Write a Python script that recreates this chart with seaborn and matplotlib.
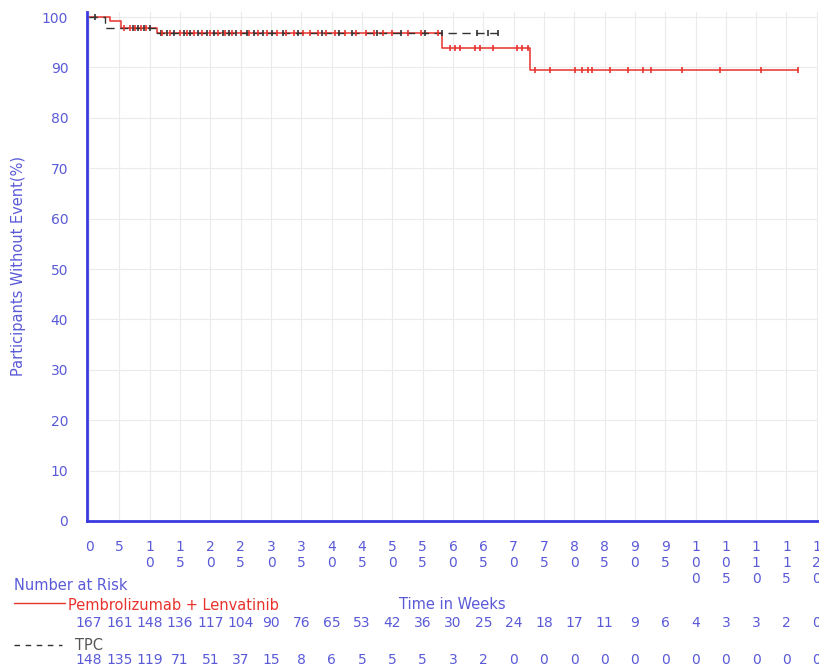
import numpy as np
import seaborn as sns
from matplotlib import pyplot as plt
from matplotlib import transforms

# step curves (time in weeks, % without event)
pem_times = [0, 3.5, 5.2, 11.2, 58.2, 72.7, 116.9]
pem_surv = [100, 99.2, 97.8, 96.8, 93.8, 89.4, 89.4]
tpc_times = [0, 2.6, 11.2, 67.6]
tpc_surv = [100, 97.9, 96.8, 96.8]

# censoring marks
pem_censor = [5.8, 6.8, 7.6, 8.5, 9.4, 12.0, 13.4, 15.0, 16.2, 17.3, 18.6, 20.0,
              21.2, 22.4, 23.6, 25.0, 26.3, 27.8, 29.4, 31.0, 32.4, 33.8, 35.2,
              36.4, 37.8, 39.0, 40.6, 42.2, 44.0, 45.6, 47.0, 48.4, 50.0, 52.6,
              54.8, 57.6, 59.5, 60.3, 61.2, 63.6, 64.4, 66.6, 70.5, 71.4, 72.4,
              73.5, 76.0, 80.1, 81.3, 82.2, 82.9, 85.9, 88.8, 91.3, 92.6, 97.7,
              104.0, 110.8, 116.9]
tpc_censor = [1.0, 7.2, 8.0, 9.0, 10.0, 11.8, 12.8, 14.0, 15.6, 16.6, 18.0, 19.4,
              20.6, 22.0, 23.0, 24.2, 26.0, 27.2, 28.6, 30.2, 32.0, 34.4, 38.4,
              41.2, 43.4, 47.4, 51.4, 55.4, 58.2, 64.0, 65.8, 67.4]

# number at risk
risk_weeks = list(range(0, 121, 5))
pem_risk = [167, 161, 148, 136, 117, 104, 90, 76, 65, 53, 42, 36, 30, 25, 24,
            18, 17, 11, 9, 6, 4, 3, 3, 2, 0]
tpc_risk = [148, 135, 119, 71, 51, 37, 15, 8, 6, 5, 5, 5, 3, 2, 0,
            0, 0, 0, 0, 0, 0, 0, 0, 0, 0]

blue = "#5a5ad8"
spine_blue = "#3a3ae0"
red = "#e8322c"
dark = "#333333"


def step_value(times, surv, t):
    idx = np.searchsorted(times, t, side="right") - 1
    return np.asarray(surv)[idx]


sns.set_style("white")
plt.rcParams['font.family'] = ['DejaVu Sans']

fig = plt.figure(figsize=(8.19, 6.70), dpi=100)
ax = fig.add_axes([87 / 819, 149 / 670, 731 / 819, 509 / 670])

sns.lineplot(x=pem_times, y=pem_surv, drawstyle="steps-post", color=red,
             linewidth=1.1, ax=ax, estimator=None, sort=False)
sns.lineplot(x=tpc_times, y=tpc_surv, drawstyle="steps-post", color=dark,
             linewidth=1.0, linestyle=(0, (6, 4)), ax=ax, estimator=None, sort=False)

ax.plot(tpc_censor, step_value(tpc_times, tpc_surv, tpc_censor), ls="none",
        marker="|", color=dark, markersize=5, markeredgewidth=1.2)
ax.plot(pem_censor, step_value(pem_times, pem_surv, pem_censor), ls="none",
        marker="|", color=red, markersize=5, markeredgewidth=1.2)

ax.set_xlim(-0.35, 120.2)
ax.set_ylim(0, 101)
ax.set_xticks(risk_weeks)
ax.set_xticklabels(["\n".join(str(w)) for w in risk_weeks], linespacing=1.15)
ax.set_yticks(range(0, 101, 10))
ax.set_yticks(range(5, 100, 10), minor=True)
ax.grid(True, which="major", color="#ebebeb", linewidth=0.8)
ax.set_axisbelow(True)

for side in ["top", "right"]:
    ax.spines[side].set_visible(False)
for side in ["left", "bottom"]:
    ax.spines[side].set_color(spine_blue)
    ax.spines[side].set_linewidth(2)

ax.tick_params(axis="both", which="both", direction="out", colors=spine_blue,
               labelcolor=blue, labelsize=10, width=1)
ax.tick_params(axis="y", which="major", length=10)
ax.tick_params(axis="y", which="minor", length=4)
ax.tick_params(axis="x", which="major", length=5, pad=9)
for lab in ax.get_xticklabels():
    lab.set_verticalalignment("top")

ax.set_ylabel("Participants Without Event(%)", color=blue, fontsize=10.5)
ax.yaxis.set_label_coords(-0.083, 0.5)
ax.set_xlabel("Time in Weeks", color=blue, fontsize=10.5)
ax.xaxis.set_label_coords(0.5, -0.149)

# number at risk table
fig.text(14 / 819, 1 - 585 / 670, "Number at Risk", color=blue, fontsize=10.5,
         va="center", ha="left")
fig.add_artist(plt.Line2D([14 / 819, 65 / 819], [1 - 603 / 670] * 2,
                          color=red, linewidth=1.0))
fig.text(68 / 819, 1 - 606 / 670, "Pembrolizumab + Lenvatinib", color=red,
         fontsize=10.5, va="center", ha="left")
fig.add_artist(plt.Line2D([14 / 819, 62 / 819], [1 - 645 / 670] * 2,
                          color=dark, linewidth=1.0, linestyle=(0, (4, 4))))
fig.text(75 / 819, 1 - 646 / 670, "TPC", color="#555555", fontsize=10.5,
         va="center", ha="left")

trans = transforms.blended_transform_factory(ax.transData, fig.transFigure)
for w, n in zip(risk_weeks, pem_risk):
    ax.text(w, 1 - 623 / 670, str(n), transform=trans, color=blue,
            fontsize=10, ha="center", va="center", clip_on=False)
for w, n in zip(risk_weeks, tpc_risk):
    ax.text(w, 1 - 660 / 670, str(n), transform=trans, color=blue,
            fontsize=10, ha="center", va="center", clip_on=False)

fig.savefig("out.png", dpi=100)
